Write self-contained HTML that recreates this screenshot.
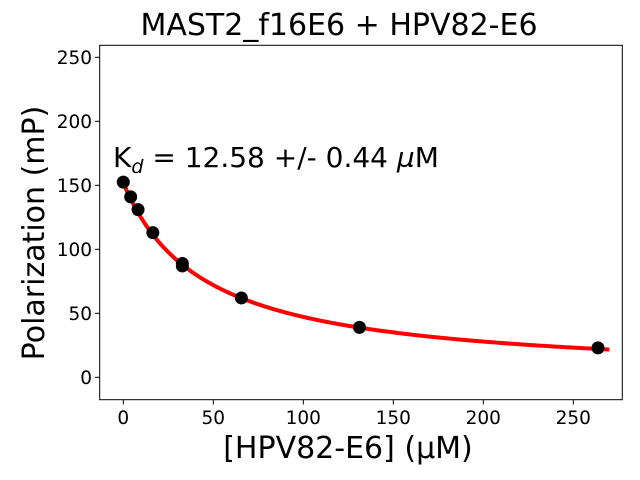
<!DOCTYPE html>
<html><head><style>body{margin:0;background:#fff}svg{display:block}text{font-family:"DejaVu Sans","Liberation Sans",sans-serif;fill:#000}</style></head>
<body>
<svg id="s" width="640" height="480" viewBox="0 0 640 480" xmlns="http://www.w3.org/2000/svg">
<text x="339" y="35" font-size="30" text-anchor="middle">MAST2_f16E6 + HPV82-E6</text>
<rect x="99.7" y="45.3" width="522.6" height="354.4" fill="none" stroke="#000" stroke-width="1"/>
<g font-size="18.5" text-anchor="middle">
<line x1="123.3" y1="399.7" x2="123.3" y2="404.5" stroke="#000"/><text x="123.3" y="424">0</text>
<line x1="213.3" y1="399.7" x2="213.3" y2="404.5" stroke="#000"/><text x="213.3" y="424">50</text>
<line x1="303.3" y1="399.7" x2="303.3" y2="404.5" stroke="#000"/><text x="303.3" y="424">100</text>
<line x1="393.3" y1="399.7" x2="393.3" y2="404.5" stroke="#000"/><text x="393.3" y="424">150</text>
<line x1="483.3" y1="399.7" x2="483.3" y2="404.5" stroke="#000"/><text x="483.3" y="424">200</text>
<line x1="573.3" y1="399.7" x2="573.3" y2="404.5" stroke="#000"/><text x="573.3" y="424">250</text>
</g>
<g font-size="18.5" text-anchor="end">
<line x1="95" y1="377.3" x2="99.7" y2="377.3" stroke="#000"/><text x="92" y="384">0</text>
<line x1="95" y1="313.3" x2="99.7" y2="313.3" stroke="#000"/><text x="92" y="320">50</text>
<line x1="95" y1="249.3" x2="99.7" y2="249.3" stroke="#000"/><text x="92" y="256">100</text>
<line x1="95" y1="185.3" x2="99.7" y2="185.3" stroke="#000"/><text x="92" y="192">150</text>
<line x1="95" y1="121.3" x2="99.7" y2="121.3" stroke="#000"/><text x="92" y="128">200</text>
<line x1="95" y1="57.3" x2="99.7" y2="57.3" stroke="#000"/><text x="92" y="64">250</text>
</g>
<text x="348" y="458" font-size="30" text-anchor="middle">[HPV82-E6] (µM)</text>
<text transform="translate(44,233) rotate(-90)" font-size="30" text-anchor="middle">Polarization (mP)</text>
<text x="113" y="167" font-size="28">K<tspan font-size="19" font-style="italic" dy="6">d</tspan><tspan dy="-6"> = 12.58 +/- 0.44 </tspan><tspan font-style="italic">µ</tspan>M</text>
<path id="c" fill="none" stroke="#f00" stroke-width="4"/>
<g id="p" fill="#000"></g>
</svg>
<script>
var X=function(x){return 123.3+1.8*x},Y=function(y){return 377.3-1.28*y};
var d="";for(var i=0;i<=270;i+=1){var y=152/(1+i/45);d+=(i?"L":"M")+X(i).toFixed(2)+" "+Y(y).toFixed(2);}
document.getElementById("c").setAttribute("d",d);
var pts=[[0,152.5],[4.1,141],[8.2,131],[16.4,113],[32.8,87],[65.6,62],[131.2,39],[263.7,23]];
var g=document.getElementById("p"),h="";
pts.forEach(function(p){h+='<ellipse cx="'+X(p[0])+'" cy="'+Y(p[1])+'" rx="6.5" ry="6.5"/>';
if(p[0]==32.8)h+='<ellipse cx="'+X(p[0])+'" cy="'+(Y(p[1])-2.5)+'" rx="6.5" ry="6.5"/>';});
g.innerHTML=h;
</script>
</body></html>
